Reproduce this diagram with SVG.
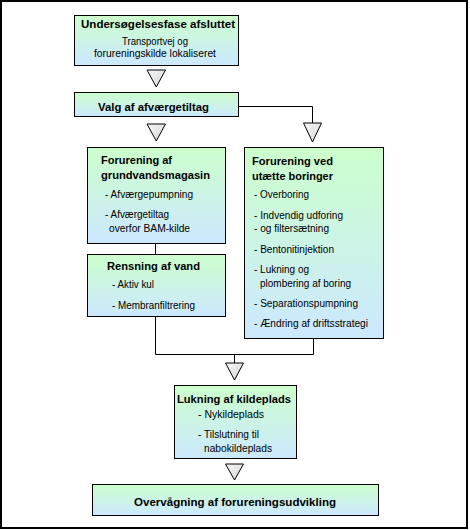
<svg xmlns="http://www.w3.org/2000/svg" width="470" height="530" viewBox="0 0 470 530">
<defs>
<linearGradient id="bg" x1="0" y1="0" x2="0" y2="1">
<stop offset="0" stop-color="#ccffcc"/>
<stop offset="1" stop-color="#cce8ff"/>
</linearGradient>
<linearGradient id="tg" x1="0" y1="0" x2="1" y2="1">
<stop offset="0" stop-color="#f8f8f8"/>
<stop offset="1" stop-color="#d4d4d4"/>
</linearGradient>
<style>
.box{fill:url(#bg);stroke:#000;stroke-width:1}
.tri{fill:url(#tg);stroke:#000;stroke-width:1}
.ln{fill:none;stroke:#000;stroke-width:1}
text{font-family:"Liberation Sans Narrow","Liberation Sans",Arial,sans-serif;fill:#000}
.b{font-size:11.5px;font-weight:bold}
.r{font-size:10px}
</style>
</defs>
<rect x="1" y="1" width="466" height="527" fill="#fff" stroke="#000" stroke-width="2"/>
<g id="connectors">
<polyline class="ln" points="239,106.5 312.5,106.5 312.5,123"/>
<line class="ln" x1="155.5" y1="244" x2="155.5" y2="254"/>
<polyline class="ln" points="155.5,317 155.5,354.5 313.5,354.5 313.5,339"/>
<line class="ln" x1="234.5" y1="354.5" x2="234.5" y2="363"/>
<polygon class="tri" points="147,70 165.5,70 156.25,87"/>
<polygon class="tri" points="147,124 165.5,124 156.25,141"/>
<polygon class="tri" points="303.5,123 321.5,123 312.5,142"/>
<polygon class="tri" points="225.5,363 243.5,363 234.5,380"/>
<polygon class="tri" points="225.5,464 243.5,464 234.5,480"/>
</g>
<g id="n1">
<rect class="box" x="74.5" y="15.5" width="164" height="50"/>
<text class="b" x="81" y="28" textLength="154" lengthAdjust="spacingAndGlyphs">Undersøgelsesfase afsluttet</text>
<text class="r" x="122" y="45" textLength="66" lengthAdjust="spacingAndGlyphs">Transportvej og</text>
<text class="r" x="94" y="57" textLength="122" lengthAdjust="spacingAndGlyphs">forureningskilde lokaliseret</text>
</g>
<g id="n2">
<rect class="box" x="74.5" y="92.5" width="164" height="24"/>
<text class="b" x="98" y="111" textLength="111" lengthAdjust="spacingAndGlyphs">Valg af afværgetiltag</text>
</g>
<g id="n3">
<rect class="box" x="87.5" y="147.5" width="138" height="96"/>
<text class="b" x="101" y="164" textLength="71" lengthAdjust="spacingAndGlyphs">Forurening af</text>
<text class="b" x="101" y="179" textLength="109" lengthAdjust="spacingAndGlyphs">grundvandsmagasin</text>
<text class="r" x="105" y="198" textLength="88" lengthAdjust="spacingAndGlyphs">- Afværgepumpning</text>
<text class="r" x="105" y="218" textLength="64" lengthAdjust="spacingAndGlyphs">- Afværgetiltag</text>
<text class="r" x="109" y="232" textLength="81" lengthAdjust="spacingAndGlyphs">overfor BAM-kilde</text>
</g>
<g id="n4">
<rect class="box" x="87.5" y="254.5" width="138" height="62"/>
<text class="b" x="107" y="270" textLength="93" lengthAdjust="spacingAndGlyphs">Rensning af vand</text>
<text class="r" x="112" y="288" textLength="42" lengthAdjust="spacingAndGlyphs">- Aktiv kul</text>
<text class="r" x="112" y="309" textLength="83" lengthAdjust="spacingAndGlyphs">- Membranfiltrering</text>
</g>
<g id="n5">
<rect class="box" x="244.5" y="147.5" width="139" height="191"/>
<text class="b" x="252" y="165" textLength="81" lengthAdjust="spacingAndGlyphs">Forurening ved</text>
<text class="b" x="252" y="180" textLength="81" lengthAdjust="spacingAndGlyphs">utætte boringer</text>
<text class="r" x="254" y="198" textLength="55" lengthAdjust="spacingAndGlyphs">- Overboring</text>
<text class="r" x="254" y="219" textLength="89" lengthAdjust="spacingAndGlyphs">- Indvendig udforing</text>
<text class="r" x="254" y="232" textLength="75" lengthAdjust="spacingAndGlyphs">- og filtersætning</text>
<text class="r" x="254" y="253" textLength="80" lengthAdjust="spacingAndGlyphs">- Bentonitinjektion</text>
<text class="r" x="254" y="273" textLength="55" lengthAdjust="spacingAndGlyphs">- Lukning og</text>
<text class="r" x="260" y="287" textLength="91" lengthAdjust="spacingAndGlyphs">plombering af boring</text>
<text class="r" x="254" y="307" textLength="104" lengthAdjust="spacingAndGlyphs">- Separationspumpning</text>
<text class="r" x="254" y="327" textLength="114" lengthAdjust="spacingAndGlyphs">- Ændring af driftsstrategi</text>
</g>
<g id="n6">
<rect class="box" x="174.5" y="385.5" width="122" height="73"/>
<text class="b" x="177" y="403" textLength="114" lengthAdjust="spacingAndGlyphs">Lukning af kildeplads</text>
<text class="r" x="198" y="418" textLength="66" lengthAdjust="spacingAndGlyphs">- Nykildeplads</text>
<text class="r" x="198" y="438" textLength="61" lengthAdjust="spacingAndGlyphs">- Tilslutning til</text>
<text class="r" x="204" y="452" textLength="68" lengthAdjust="spacingAndGlyphs">nabokildeplads</text>
</g>
<g id="n7">
<rect class="box" x="92.5" y="484.5" width="286" height="31"/>
<text class="b" x="134" y="506" textLength="202" lengthAdjust="spacingAndGlyphs">Overvågning af forureningsudvikling</text>
</g>
</svg>
